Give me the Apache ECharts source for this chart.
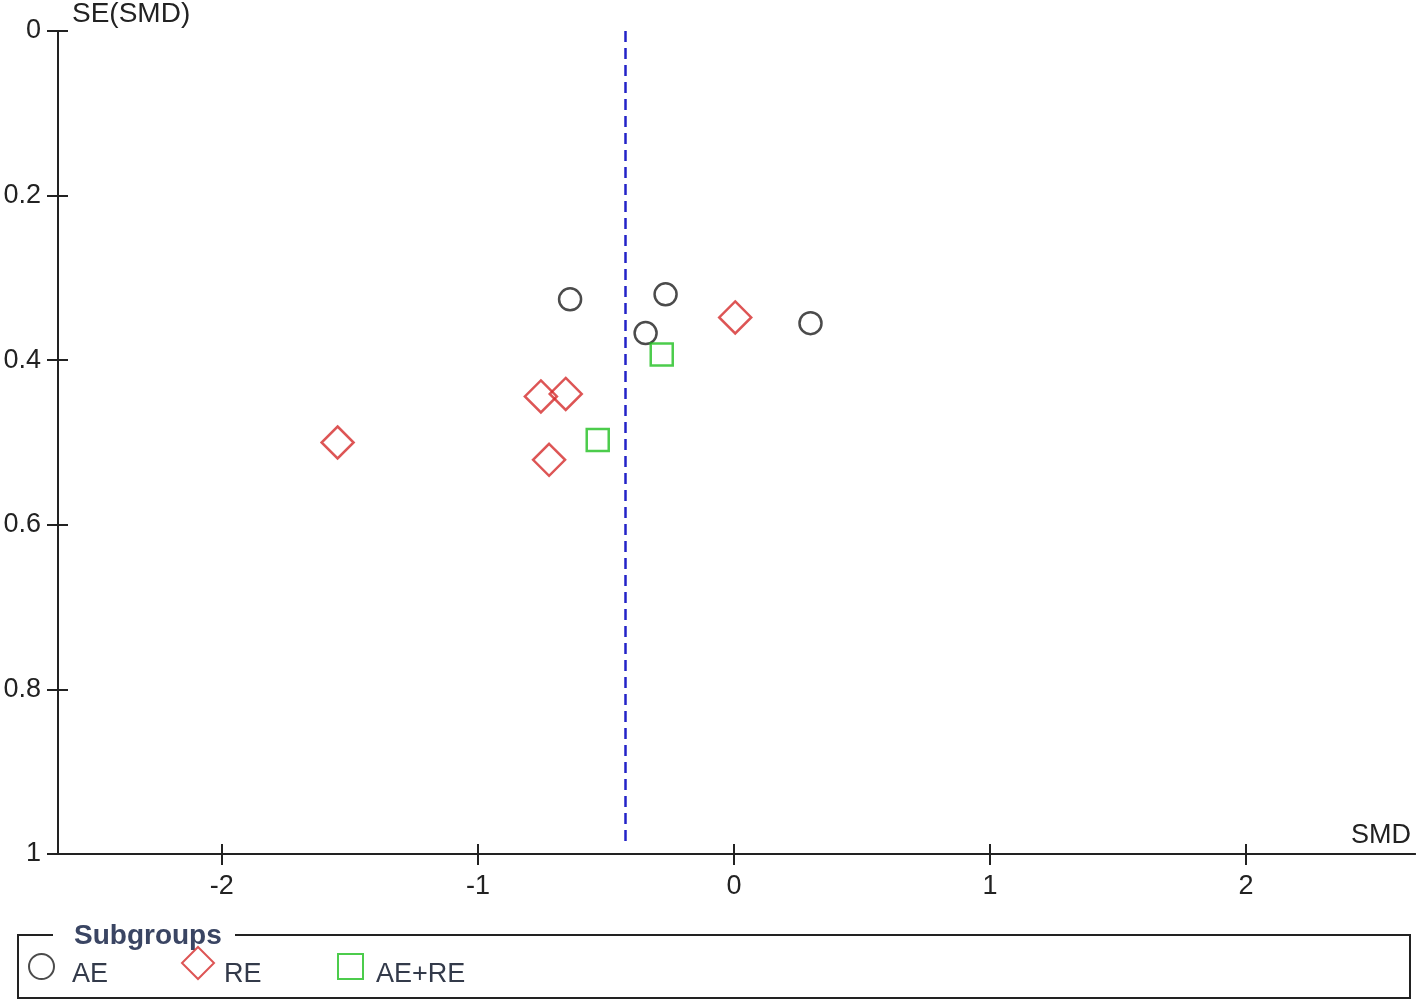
<!DOCTYPE html>
<html>
<head>
<meta charset="utf-8">
<script src="https://cdn.jsdelivr.net/npm/echarts@6/dist/echarts.min.js"></script>
<style>
  html, body { margin: 0; padding: 0; background: #fff; }
  #chart { width: 1417px; height: 1004px; }
</style>
</head>
<body>
<div id="chart"></div>
<script>
// funnel plot data
const aeSMD = [-0.640, -0.267, -0.345, 0.299];
const aeSE = [0.326, 0.320, 0.367, 0.355];
const reSMD = [0.005, -0.754, -0.657, -1.548, -0.722];
const reSE = [0.348, 0.444, 0.441, 0.500, 0.521];
const bothSMD = [-0.282, -0.532];
const bothSE = [0.393, 0.497];
const pooledSMD = -0.425;
const xTicks = [-2, -1, 0, 1, 2];
const yTicks = [0, 0.2, 0.4, 0.6, 0.8, 1];
const groups = ['AE', 'RE', 'AE+RE'];

const FONT = 'Liberation Sans';
const INK = '#222';

function pairs(xs, ys) {
  return xs.map((x, i) => [x, ys[i]]);
}

const chart = echarts.init(document.getElementById('chart'));

// two copies of each axis: one draws ticks outside, the other inside,
// so the ticks cross the axis line like in the original plot
const xBase = {
  type: 'value',
  min: -2.64,
  max: 2.66,
  gridIndex: 0,
  position: 'bottom',
  splitLine: { show: false },
  axisLine: { show: true, onZero: false, lineStyle: { color: INK, width: 2 } }
};
const yBase = {
  type: 'value',
  min: 0,
  max: 1,
  interval: 0.2,
  inverse: true,
  position: 'left',
  splitLine: { show: false },
  axisLine: { show: true, onZero: false, lineStyle: { color: INK, width: 2 } }
};

// legend text sits a little lower than its icon
const legendText = pad => ({
  fontFamily: FONT, fontSize: 27, color: '#333a4a',
  rich: { t: { fontFamily: FONT, fontSize: 27, color: '#333a4a', padding: pad } }
});

chart.setOption({
  animation: false,
  grid: { left: 58, right: 2, top: 31, bottom: 150 },
  xAxis: [
    Object.assign({}, xBase, {
      name: 'SMD',
      nameLocation: 'end',
      nameGap: -4,
      nameTextStyle: { fontFamily: FONT, fontSize: 27, color: INK, align: 'right', verticalAlign: 'bottom', padding: [0, 0, 5, 0] },
      axisTick: { show: true, customValues: xTicks, length: 11, lineStyle: { color: INK, width: 2 } },
      axisLabel: { show: true, customValues: xTicks, margin: 19, fontFamily: FONT, fontSize: 27, color: INK }
    }),
    Object.assign({}, xBase, {
      axisTick: { show: true, customValues: xTicks, inside: true, length: 10, lineStyle: { color: INK, width: 2 } },
      axisLabel: { show: false }
    })
  ],
  yAxis: [
    Object.assign({}, yBase, {
      name: 'SE(SMD)',
      nameLocation: 'start',
      nameGap: 3,
      nameTextStyle: { fontFamily: FONT, fontSize: 28, color: INK, align: 'left', padding: [0, 0, 0, 14] },
      axisTick: { show: true, length: 11, lineStyle: { color: INK, width: 2 } },
      axisLabel: {
        margin: 17, fontFamily: FONT, fontSize: 27, color: INK,
        formatter: v => String(+v.toFixed(1))
      }
    }),
    Object.assign({}, yBase, {
      axisTick: { show: true, inside: true, length: 10, lineStyle: { color: INK, width: 2 } },
      axisLabel: { show: false }
    })
  ],
  legend: [
    {
      data: [groups[0]], left: 28, top: 953, padding: 0,
      itemWidth: 25, itemHeight: 25, formatter: '{t|{name}}',
      textStyle: legendText([16, 0, 0, 13])
    },
    {
      data: [groups[1]], left: 181, top: 946, padding: 0,
      itemWidth: 32, itemHeight: 32, formatter: '{t|{name}}',
      textStyle: legendText([24, 0, 0, 5])
    },
    {
      data: [groups[2]], left: 337, top: 953, padding: 0,
      itemWidth: 25, itemHeight: 25, formatter: '{t|{name}}',
      textStyle: legendText([16, 0, 0, 8])
    }
  ],
  graphic: [
    {
      type: 'rect', silent: true,
      shape: { x: 18, y: 935, width: 1392, height: 63 },
      style: { fill: 'none', stroke: INK, lineWidth: 2 }
    },
    {
      type: 'rect', silent: true,
      shape: { x: 53, y: 924, width: 182, height: 22 },
      style: { fill: '#fff' }
    },
    {
      type: 'text', silent: true, x: 74, y: 936,
      style: { text: 'Subgroups', font: 'bold 28px "Liberation Sans"', fill: '#3a4563', verticalAlign: 'middle' }
    }
  ],
  series: [
    {
      name: groups[0], type: 'scatter', symbol: 'circle', symbolSize: 22,
      data: pairs(aeSMD, aeSE),
      itemStyle: { color: 'rgba(0,0,0,0)', borderColor: '#1e1e1e', borderWidth: 2.5 },
      emphasis: { disabled: true },
      markLine: {
        silent: true, symbol: 'none', label: { show: false },
        lineStyle: { color: '#2323c8', type: [11, 6], width: 2.5 },
        data: [[{ coord: [pooledSMD, 0] }, { coord: [pooledSMD, 0.991] }]]
      }
    },
    {
      name: groups[1], type: 'scatter', symbol: 'diamond', symbolSize: 32,
      data: pairs(reSMD, reSE),
      itemStyle: { color: 'rgba(0,0,0,0)', borderColor: '#d42a2a', borderWidth: 2.5 },
      emphasis: { disabled: true }
    },
    {
      name: groups[2], type: 'scatter', symbol: 'rect', symbolSize: 22,
      data: pairs(bothSMD, bothSE),
      itemStyle: { color: 'rgba(0,0,0,0)', borderColor: '#1fbf1f', borderWidth: 2.5 },
      emphasis: { disabled: true }
    }
  ]
});
</script>
</body>
</html>
